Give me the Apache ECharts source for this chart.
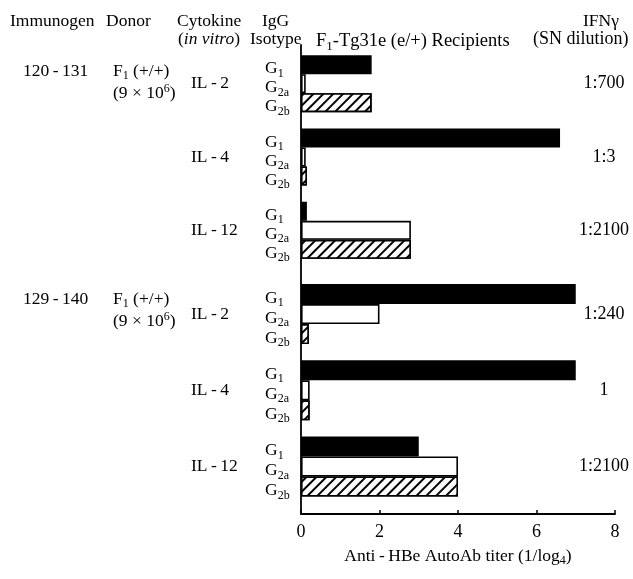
<!DOCTYPE html>
<html><head><meta charset="utf-8">
<script src="https://cdn.jsdelivr.net/npm/echarts@6/dist/echarts.min.js"></script>
<style>html,body{margin:0;padding:0;background:#fff}#c{width:633px;height:579px}</style>
</head><body><div id="c"></div>
<script>
// ---- data ----
const immunogens = ['120\u2009-\u2009131', '129\u2009-\u2009140'];
const donorLine1 = ['F{s|1} (+/+)', 'F{s|1} (+/+)'];
const donorLine2 = ['(9 × 10{p|6})', '(9 × 10{p|6})'];
const cytokines = ['IL\u2009-\u20092', 'IL\u2009-\u20094', 'IL\u2009-\u200912'];
const isotypeSubs = ['1', '2a', '2b'];
// titers per panel (immunogen), per cytokine
const titerG1  = [[1.8, 6.6, 0.15], [7.0, 7.0, 3.0]];
const titerG2a = [[0.12, 0.12, 2.8], [2.0, 0.22, 4.0]];
const titerG2b = [[1.8, 0.15, 2.8], [0.2, 0.22, 4.0]];
const ifnDilution = [['1:700', '1:3', '1:2100'], ['1:240', '1', '1:2100']];
const xMin = 0, xMax = 8, xInterval = 2;

// ---- style ----
const FF = 'Liberation Serif';
const FS = 17.5;
const mkRich = (fs) => ({
  s: { fontFamily: FF, fontSize: Math.round(fs * 0.68), padding: [Math.round(fs * 0.55), 0, 0, 0], color: '#000' },
  p: { fontFamily: FF, fontSize: Math.round(fs * 0.68), padding: [0, 0, Math.round(fs * 0.5), 0], color: '#000' },
  i: { fontFamily: FF, fontSize: fs, fontStyle: 'italic', color: '#000' },
  t: { fontFamily: FF, fontSize: fs, color: '#000' }
});
const rich = mkRich(FS);
const L = 301, R = 18;
const panels = [
  { top: 47, height: 220, barW: 19 },
  { top: 276, height: 228.6, barW: 20 }
];
const titers = [titerG1, titerG2a, titerG2b];

const grid = [{ left: L, right: R, top: 45, bottom: 65 }];
const xAxis = [{
  gridIndex: 0, type: 'value', min: xMin, max: xMax, interval: xInterval,
  axisLine: { show: true, lineStyle: { color: '#000', width: 1.8 } },
  axisTick: { show: true, inside: true, length: 4, lineStyle: { color: '#000', width: 1.5 } },
  splitLine: { show: false },
  axisLabel: { fontFamily: FF, fontSize: 18, color: '#000', margin: 9 },
  name: 'Anti\u2009-\u2009HBe AutoAb titer (1/log{s|4})',
  nameLocation: 'middle', nameGap: 31,
  nameTextStyle: { fontFamily: FF, fontSize: FS, color: '#000', rich: rich }
}];
const yAxis = [{
  gridIndex: 0, type: 'value', min: 0, max: 1,
  axisLine: { show: true, lineStyle: { color: '#000', width: 1.8 } },
  axisTick: { show: false }, axisLabel: { show: false }, splitLine: { show: false }
}];
const series = [];
const title = [];

panels.forEach((pn, p) => {
  grid.push({ left: L, right: R, top: pn.top, height: pn.height });
  xAxis.push({ gridIndex: p + 1, type: 'value', min: xMin, max: xMax, show: false });
  yAxis.push({
    gridIndex: p + 1, type: 'category', inverse: true, data: cytokines,
    axisLine: { show: false }, axisTick: { show: false },
    axisLabel: { fontFamily: FF, fontSize: FS, color: '#000', align: 'left', margin: 110, padding: [0, 0, 26, 0] }
  });
  yAxis.push({
    gridIndex: p + 1, type: 'category', inverse: true, position: 'right', data: ifnDilution[p],
    axisLine: { show: false }, axisTick: { show: false },
    axisLabel: { inside: true, fontFamily: FF, fontSize: 18, color: '#000', align: 'center', margin: 11 }
  });
  isotypeSubs.forEach((sub, k) => {
    const itemStyle = { borderColor: '#000', borderWidth: 1.6 };
    itemStyle.color = (k === 0) ? '#000' : '#fff';
    if (k === 2) itemStyle.decal = {
      symbol: 'rect', symbolSize: 1, color: '#000', backgroundColor: '#fff',
      dashArrayX: [1, 0], dashArrayY: [2, 5], rotation: -Math.PI / 4
    };
    series.push({
      type: 'bar', name: 'G' + sub, xAxisIndex: p + 1, yAxisIndex: 1 + p * 2,
      data: titers[k][p], barWidth: pn.barW, barGap: '0%',
      itemStyle: itemStyle,
      label: {
        show: true, position: 'left', distance: 36, align: 'left', offset: [0, 4],
        formatter: '{t|G}{s|' + sub + '}', rich: rich
      },
      emphasis: { disabled: true }, animation: false
    });
  });
});

// column headers & group descriptors (text)
const T = (text, left, top, fs) => {
  const f = fs || FS;
  title.push({
    text: text, left: left, top: top, padding: 0, itemGap: 0,
    textStyle: { fontFamily: FF, fontSize: f, fontWeight: 'normal', color: '#000', rich: mkRich(f) }
  });
};
T('Immunogen', 10, 12); T('Donor', 106, 12); T('Cytokine', 177, 12); T('IgG', 262, 12); T('IFNγ', 583, 12);
T('({i|in vitro})', 178, 30); T('Isotype', 250, 30); T('F{s|1}-Tg31e (e/+) Recipients', 316, 30, 18.5); T('(SN dilution)', 533, 30, 18);
const groupTop = [62, 290];
immunogens.forEach((im, p) => {
  T(im, 23, groupTop[p]);
  T(donorLine1[p], 113, groupTop[p] - 2);
  T(donorLine2[p], 113, groupTop[p] + 21);
});

const chart = echarts.init(document.getElementById('c'), null, { renderer: 'canvas' });
chart.setOption({ animation: false, title: title, grid: grid, xAxis: xAxis, yAxis: yAxis, series: series });
</script></body></html>
